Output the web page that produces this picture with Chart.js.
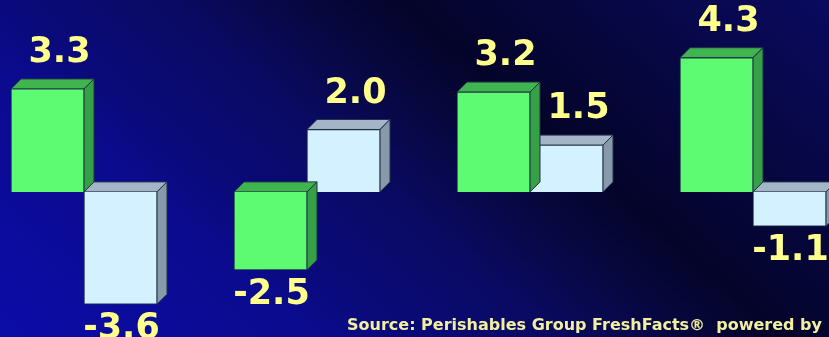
<!DOCTYPE html>
<html lang="en">
<head>
<meta charset="UTF-8">
<script src="https://cdn.jsdelivr.net/npm/chart.js"></script>
<title>FreshFacts change</title>
<style>
  body { margin: 0; background: #06063a; }
  #wrap { width: 829px; height: 337px; }
</style>
</head>
<body>
<div id="wrap"><canvas id="grafico" width="829" height="337"></canvas></div>
<script>
// values
const groups = ["A", "B", "C", "D"];
const greenValues = [3.3, -2.5, 3.2, 4.3];
const blueValues = [-3.6, 2.0, 1.5, -1.1];
const sourceText = "Source: Perishables Group FreshFacts\u00AE  powered by";

const faces = {
  green: { front: "#5cfb72", top: "#3fb44f", side: "#36a046" },
  blue: { front: "#d4f1ff", top: "#a3b5c6", side: "#8799aa" }
};
const depth = 10;

// background: bright blue bottom-left, dark band through the middle
const bgPlugin = {
  id: "bg",
  beforeDraw(chart) {
    const c = chart.ctx;
    const g = c.createLinearGradient(0, 337, 527, -265);
    g.addColorStop(0, "#0c0ca8");
    g.addColorStop(0.26, "#0b0b8e");
    g.addColorStop(0.32, "#0a0a7c");
    g.addColorStop(0.45, "#0a0a64");
    g.addColorStop(0.57, "#07073e");
    g.addColorStop(0.645, "#04042a");
    g.addColorStop(1, "#0a0a60");
    c.save();
    c.fillStyle = g;
    c.fillRect(0, 0, chart.width, chart.height);
    c.restore();
  }
};

// top and side faces, drawn before each dataset's fronts
const boxPlugin = {
  id: "box3d",
  beforeDatasetDraw(chart, args) {
    const c = chart.ctx;
    const ds = chart.data.datasets[args.index];
    const col = faces[ds.faceKey];
    args.meta.data.forEach(bar => {
      const p = bar.getProps(["x", "y", "base", "width"], true);
      const l = p.x - p.width / 2, r = p.x + p.width / 2;
      const t = Math.min(p.y, p.base), b = Math.max(p.y, p.base);
      c.save();
      c.strokeStyle = "#22304a";
      c.lineWidth = 1;
      c.beginPath();
      c.moveTo(l, t); c.lineTo(l + depth, t - depth); c.lineTo(r + depth, t - depth); c.lineTo(r, t);
      c.closePath();
      c.fillStyle = col.top; c.fill(); c.stroke();
      c.beginPath();
      c.moveTo(r, t); c.lineTo(r + depth, t - depth); c.lineTo(r + depth, b - depth); c.lineTo(r, b);
      c.closePath();
      c.fillStyle = col.side; c.fill(); c.stroke();
      c.restore();
    });
  },
  afterDatasetsDraw(chart) {
    const c = chart.ctx;
    c.save();
    c.fillStyle = "#ffff8c";
    c.font = "bold 35px 'DejaVu Sans'";
    c.textAlign = "center";
    c.textBaseline = "middle";
    chart.data.datasets.forEach((ds, i) => {
      chart.getDatasetMeta(i).data.forEach((bar, j) => {
        const v = ds.data[j];
        const p = bar.getProps(["x", "y", "base"], true);
        if (v >= 0) c.fillText(v.toFixed(1), p.x + 12, p.y - 36);
        else c.fillText(v.toFixed(1), p.x + 1, p.y + 25);
      });
    });
    c.fillStyle = "#f2f0a0";
    c.font = "bold 16px 'DejaVu Sans'";
    c.textAlign = "left";
    c.fillText(sourceText, 347, 326);
    c.restore();
  }
};

new Chart(document.getElementById("grafico"), {
  type: "bar",
  data: {
    labels: groups,
    datasets: [
      { data: greenValues, faceKey: "green", backgroundColor: faces.green.front, borderColor: "#22304a", borderWidth: 1, clip: false },
      { data: blueValues, faceKey: "blue", backgroundColor: faces.blue.front, borderColor: "#22304a", borderWidth: 1, clip: false }
    ]
  },
  options: {
    responsive: false,
    animation: false,
    barThickness: 73,
    layout: { padding: { left: 84, right: 76, top: 0, bottom: 0 } },
    plugins: { legend: { display: false }, tooltip: { enabled: false } },
    scales: {
      x: { display: false, offset: false },
      y: { display: false, min: -4.65, max: 6.15 }
    }
  },
  plugins: [bgPlugin, boxPlugin]
});
</script>
</body>
</html>
